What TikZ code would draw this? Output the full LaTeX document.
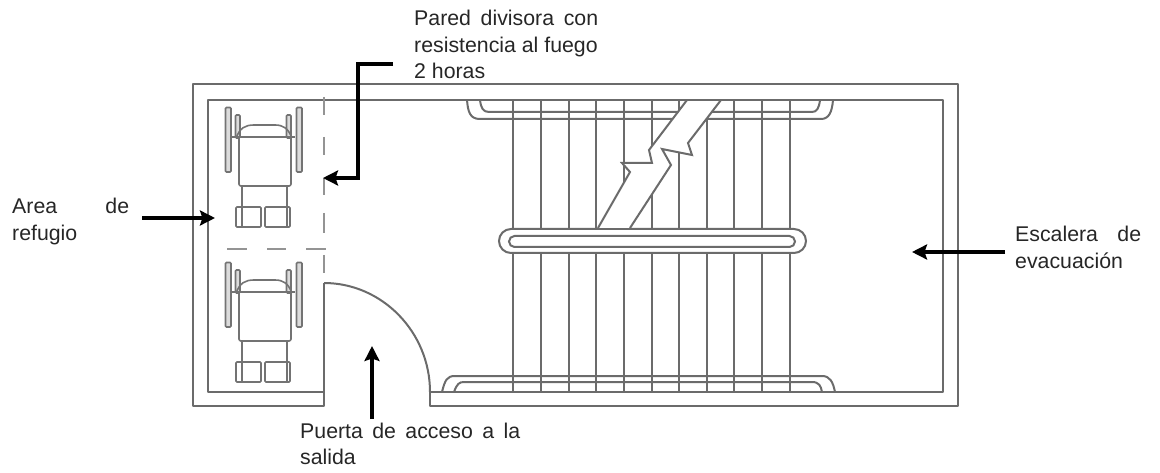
\documentclass[tikz,border=0pt]{standalone}
\usepackage{fontspec}
\setmainfont{Liberation Sans}
\usetikzlibrary{arrows.meta}
\newcommand{\jline}[2]{\makebox[#1pt][s]{#2}}
\tikzset{
  wall/.style={draw=black!58,line width=2pt,line join=round},
  stair/.style={draw=black!58,line width=2pt},
  chair/.style={draw=black!55,line width=1.6pt},
  wheel/.style={chair,fill=black!14},
  dashline/.style={draw=black!42,line width=1.8pt},
  pointer/.style={draw=black,line width=4pt,-{Stealth[length=15pt,width=15pt,inset=2.5pt]}},
  label/.style={anchor=base west,inner sep=0pt,text=black!85,font=\fontsize{21.3}{26.5}\selectfont},
}
\begin{document}
\begin{tikzpicture}[x=1pt,y=-1pt]
\useasboundingbox (0,0) rectangle (1160,473);
% stair treads
\foreach \x in {513,541,569,596,624,652,679,707,734,762,790}
  \draw[stair] (\x,100) -- (\x,392);
% top rail
\draw[stair] (467,100) .. controls (468,112) and (470,119) .. (480,119) -- (821,119) .. controls (829,119) and (832,112) .. (833,100);
\draw[stair] (480,100) .. controls (481,108) and (483,112) .. (489,112) -- (812,112) .. controls (817,112) and (819,108) .. (820,100);
% middle rail
\draw[stair,fill=white,rounded corners=12pt] (499,229) rectangle (806,253);
\draw[stair,fill=white,rounded corners=5.5pt] (509,236) rectangle (795,247);
% bottom rail
\draw[stair] (442,392) .. controls (445,380) and (447,376) .. (455,376) -- (822,376) .. controls (830,376) and (833,382) .. (835,392);
\draw[stair] (454,392) .. controls (457,384) and (459,382) .. (464,382) -- (812,382) .. controls (819,382) and (821,386) .. (822,392);
% lightning break
\fill[white] (687,100) -- (649,150) -- (652,163) -- (622,163) -- (630,172) -- (598,228) -- (630,228) -- (671,165) -- (662,149) -- (692,155) -- (688,143) -- (721,100) -- cycle;
\draw[stair,line join=miter] (687,100) -- (649,150) -- (652,163) -- (622,163) -- (630,172) -- (598,228);
\draw[stair,line join=miter] (630,228) -- (671,165) -- (662,149) -- (692,155) -- (688,143) -- (721,100);
% walls
\draw[wall] (430,392) -- (430,406) -- (958,406) -- (958,84) -- (193,84) -- (193,406) -- (324,406) -- (324,283);
\draw[wall] (324,392) -- (208,392) -- (208,100) -- (943,100) -- (943,392) -- (430,392);
\draw[wall] (324,283) .. controls (382,283) and (430,332) .. (430,392);
% dashed partition
\foreach \a/\b in {97/115,137/155,178/195,213/233,255/273}
  \draw[dashline] (324,\a) -- (324,\b);
\foreach \a/\b in {227/247,267/286,306/326}
  \draw[dashline] (\a,249) -- (\b,249);
% wheelchairs
\foreach \dy in {0,155}{
\begin{scope}[shift={(0,\dy)}]
  \draw[wheel,rounded corners=1pt] (225.5,107.5) rectangle (231,172);
  \draw[wheel,rounded corners=1pt] (296.5,107.5) rectangle (302,172);
  \draw[wheel,rounded corners=1pt] (235.5,115) rectangle (240,138);
  \draw[wheel,rounded corners=1pt] (286.5,115) rectangle (291,138);
  \draw[chair] (236,138) .. controls (240,128) and (245,125) .. (254,125) -- (275,125) .. controls (283,125) and (288,128) .. (292,138);
  \draw[chair] (232,137) -- (295,137);
  \draw[chair,rounded corners=2pt] (239,137) -- (239,186) -- (291,186) -- (291,137);
  \draw[chair] (242,186) -- (242,227);
  \draw[chair] (287,186) -- (287,227);
  \draw[chair,rounded corners=1pt] (236,207) rectangle (261,227);
  \draw[chair,rounded corners=1pt] (265,207) rectangle (290,227);
\end{scope}}
% labels
\node[label] (pared) at (414,26) {\parbox[t]{200pt}{\jline{184}{Pared divisora con}\\resistencia al fuego\\2 horas}};
\node[label] (area) at (12,214) {\parbox[t]{125pt}{\jline{117}{Area de}\\refugio}};
\node[label] (escalera) at (1015,242) {\parbox[t]{140pt}{\jline{126}{Escalera de}\\evacuación}};
\node[label] (puerta) at (300,438) {\parbox[t]{230pt}{\jline{220}{Puerta de acceso a la}\\salida}};
% pointers
\coordinate (paredA) at (393,64);
\coordinate (paredB) at (358,64);
\coordinate (paredC) at (358,178);
\coordinate (paredD) at (323,178);
\coordinate (areaA) at (142,218);
\coordinate (areaB) at (215,218);
\coordinate (escA) at (1005,252);
\coordinate (escB) at (912,252);
\coordinate (puertaA) at (372,419);
\coordinate (puertaB) at (372,346);
\draw[pointer] (paredA) -- (paredB) -- (paredC) -- (paredD);
\draw[pointer] (areaA) -- (areaB);
\draw[pointer] (escA) -- (escB);
\draw[pointer] (puertaA) -- (puertaB);
\end{tikzpicture}
\end{document}
